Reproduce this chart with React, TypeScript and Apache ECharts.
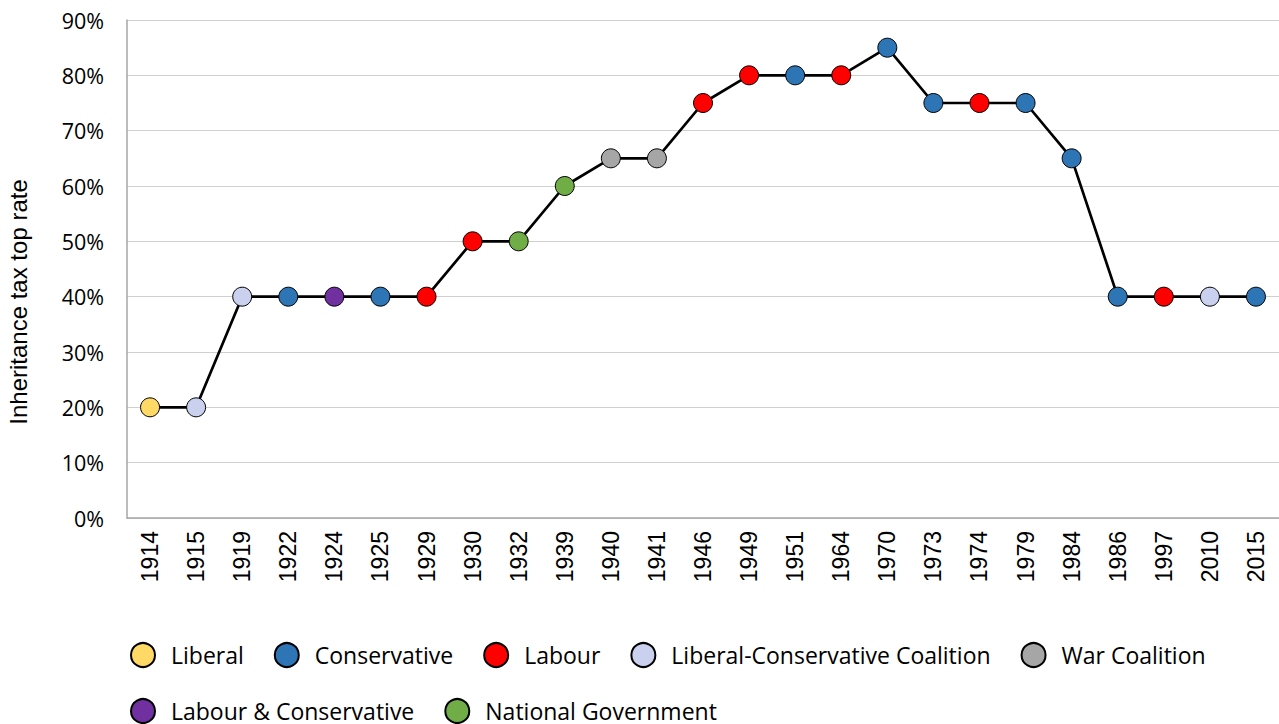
import React, { useEffect, useRef } from "react";
import * as echarts from "echarts";

const years = ["1914","1915","1919","1922","1924","1925","1929","1930","1932","1939","1940","1941","1946","1949","1951","1964","1970","1973","1974","1979","1984","1986","1997","2010","2015"];
const rates = [20,20,40,40,40,40,40,50,50,60,65,65,75,80,80,80,85,75,75,75,65,40,40,40,40];
const governments = ["Liberal","Liberal-Conservative Coalition","Liberal-Conservative Coalition","Conservative","Labour & Conservative","Conservative","Labour","Labour","National Government","National Government","War Coalition","War Coalition","Labour","Labour","Conservative","Labour","Conservative","Conservative","Labour","Conservative","Conservative","Conservative","Labour","Liberal-Conservative Coalition","Conservative"];
const parties = ["Liberal","Conservative","Labour","Liberal-Conservative Coalition","War Coalition","Labour & Conservative","National Government"];
const partyColors = ["#FFD966","#2E75B6","#FF0000","#CAD1EE","#A6A6A6","#7030A0","#70AD47"];
const yTicks = [0, 90, 10];
const yAxisTitle = "Inheritance tax top rate";

const FONT = "Open Sans";
const FONT2 = "Liberation Sans";

export default function App() {
  const ref = useRef<HTMLDivElement>(null);
  useEffect(() => {
    if (!ref.current) return;
    const chart = echarts.init(ref.current, null, { renderer: "svg" });
    const colorOf = (g: string) => partyColors[parties.indexOf(g)];
    chart.setOption({
      animation: false,
      textStyle: { fontFamily: FONT },
      grid: { left: 127, right: 0, top: 20, bottom: 206 },
      legend: {
        data: parties,
        left: 130,
        top: 642,
        padding: 0,
        width: 1120,
        icon: "circle",
        itemWidth: 24,
        itemHeight: 24,
        itemGap: 30,
        textStyle: { fontFamily: FONT, fontSize: 23, color: "#000", lineHeight: 26, padding: [0, 0, 0, 11] },
      },
      graphic: [
        {
          type: "text",
          x: 18,
          y: 302,
          rotation: Math.PI / 2,
          style: { text: yAxisTitle, fontFamily: FONT2, fontSize: 24, fill: "#000", align: "center", verticalAlign: "middle" },
        },
      ],
      xAxis: {
        type: "category",
        data: years,
        boundaryGap: true,
        axisLine: { lineStyle: { color: "#A6A6A6", width: 1.5 } },
        axisTick: { show: false },
        axisLabel: { rotate: 90, fontSize: 23, color: "#000", margin: 13, fontFamily: FONT2 },
      },
      yAxis: {
        type: "value",
        min: yTicks[0],
        max: yTicks[1],
        interval: yTicks[2],
        axisLine: { show: true, lineStyle: { color: "#A6A6A6", width: 1.5 } },
        axisTick: { show: false },
        splitLine: { lineStyle: { color: "#D0D0D0", width: 1 } },
        axisLabel: { formatter: (v: number) => `${v}%`, fontSize: 21.5, color: "#000", margin: 23, fontFamily: FONT },
      },
      series: [
        {
          type: "line",
          name: "rate",
          data: rates.map((v, i) => ({
            value: v,
            itemStyle: { color: colorOf(governments[i]), borderColor: "#000", borderWidth: 1 },
          })),
          symbol: "circle",
          symbolSize: 19,
          showSymbol: true,
          lineStyle: { color: "#000", width: 2.7 },
          z: 3,
        },
        ...parties.map((p, i) => ({
          type: "scatter",
          name: p,
          data: [],
          itemStyle: { color: partyColors[i], borderColor: "#000", borderWidth: 1.5, opacity: 1 },
        })),
      ],
    });
    return () => chart.dispose();
  }, []);
  return (
    <div
      ref={ref}
      style={{ position: "fixed", left: 0, top: 0, width: 1279, height: 724, background: "#fff" }}
    />
  );
}
